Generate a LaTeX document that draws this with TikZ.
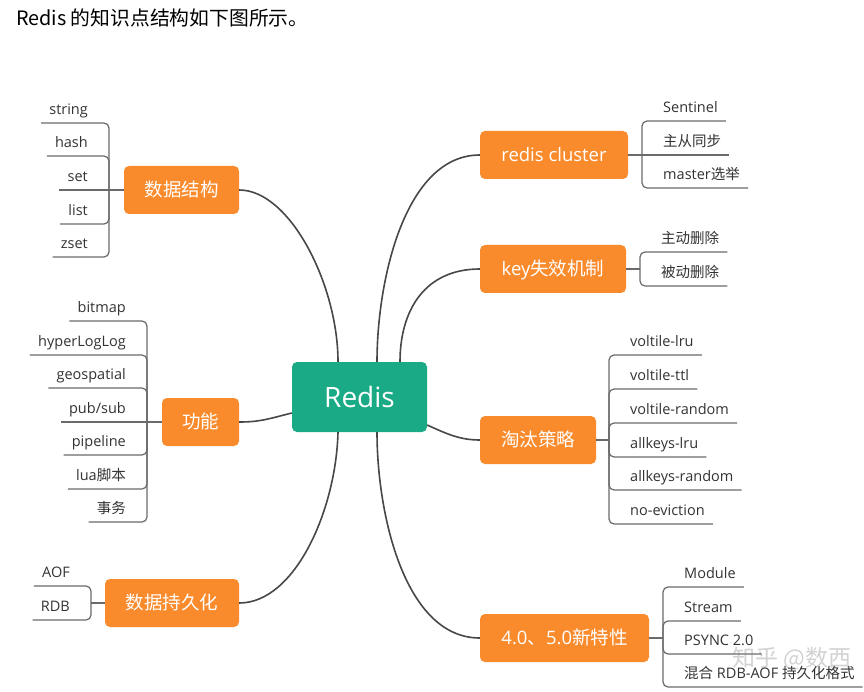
\documentclass[tikz,border=0pt]{standalone}
\usepackage{fontspec}
\setmainfont{Open Sans}
\newfontfamily\cjk{Noto Sans CJK SC}
\definecolor{hubgreen}{RGB}{26,170,133}
\definecolor{topicorange}{RGB}{250,139,45}
\definecolor{mainline}{HTML}{474747}
\definecolor{leafline}{HTML}{6A6A6A}
\definecolor{leaftext}{HTML}{333333}
\begin{document}
\begin{tikzpicture}[x=1pt,y=-1pt,
  hub/.style={fill=hubgreen, rounded corners=5pt, text=white, font=\fontsize{28}{30}\selectfont, minimum width=135pt, minimum height=70pt, inner sep=0pt, text height=22pt, text depth=2pt},
  topic/.style={fill=topicorange, rounded corners=5pt, text=white, font=\fontsize{18.5}{20}\selectfont, minimum height=48pt, inner sep=0pt, text height=14pt, text depth=1pt},
  leafL/.style={anchor=south east, text=leaftext, font=\fontsize{14.5}{16}\selectfont, inner xsep=8pt, inner ysep=0pt, text height=11pt, text depth=8.5pt},
  leafR/.style={leafL, anchor=south west},
  mainconn/.style={draw=mainline, line width=1.6pt},
  leafconn/.style={draw=leafline, line width=1.2pt, rounded corners=5pt},
]
\fill[white] (0,0) rectangle (864,692);
\useasboundingbox (0,0) rectangle (864,692);

\node[anchor=base west, inner sep=0pt, font=\cjk\fontsize{19.8}{21}\selectfont] (title) at (16,26) {Redis 的知识点结构如下图所示。};

% hub and topics
\node[hub] (r) at (359.5,397) {Redis};
\node[topic, minimum width=115pt] (ds) at (181.5,190) {\cjk 数据结构};
\node[topic, minimum width=77pt] (gn) at (200.5,422) {\cjk 功能};
\node[topic, minimum width=134pt] (cj) at (172,603) {\cjk 数据持久化};
\node[topic, minimum width=148pt] (rc) at (554,155) {redis cluster};
\node[topic, minimum width=146pt] (kx) at (553,269) {key{\cjk 失效机制}};
\node[topic, minimum width=116pt] (tt) at (538,440) {\cjk 淘汰策略};
\node[topic, minimum width=169pt] (xt) at (564.5,638) {4.0{\cjk 、}5.0{\cjk 新特性}};

% main connectors
\draw[mainconn] ([xshift=-21.5pt]r.north) .. controls (338,285) and (290,190) .. (ds.east);
\draw[mainconn] ([yshift=-16pt]r.west) .. controls (268,419) and (260,422) .. (gn.east);
\draw[mainconn] ([xshift=-21.5pt]r.south) .. controls (336,510) and (295,603) .. (cj.east);
\draw[mainconn] ([xshift=17.5pt]r.north) .. controls (377,280) and (405,155) .. (rc.west);
\draw[mainconn] ([xshift=40.5pt]r.north) .. controls (400,310) and (425,269) .. (kx.west);
\draw[mainconn] ([yshift=-28pt]r.east) .. controls (447,434) and (460,440) .. (tt.west);
\draw[mainconn] ([xshift=17.5pt]r.south) .. controls (377,515) and (405,638) .. (xt.west);

% 数据结构 leaves
\node[leafL] (ds1) at (96,123) {string};
\node[leafL] (ds2) at (96,156) {hash};
\node[leafL] (ds3) at (96,190) {set};
\node[leafL] (ds4) at (96,224) {list};
\node[leafL] (ds5) at (96,257) {zset};
\coordinate (dsj) at (109,190);
\draw[leafconn] (ds.west) -- (dsj);
\draw[leafconn] (dsj) |- (ds1.south west);
\draw[leafconn] (dsj) |- (ds2.south west);
\draw[leafconn] (dsj) -- (ds3.south west);
\draw[leafconn] (dsj) |- (ds4.south west);
\draw[leafconn] (dsj) |- (ds5.south west);

% 功能 leaves
\node[leafL] (gn1) at (134,321) {bitmap};
\node[leafL] (gn2) at (134,355) {hyperLogLog};
\node[leafL] (gn3) at (134,388) {geospatial};
\node[leafL] (gn4) at (134,422) {pub/sub};
\node[leafL] (gn5) at (134,455) {pipeline};
\node[leafL] (gn6) at (134,489) {lua{\cjk 脚本}};
\node[leafL] (gn7) at (134,522) {\cjk 事务};
\coordinate (gnj) at (147,422);
\draw[leafconn] (gn.west) -- (gnj);
\draw[leafconn] (gnj) |- (gn1.south west);
\draw[leafconn] (gnj) |- (gn2.south west);
\draw[leafconn] (gnj) |- (gn3.south west);
\draw[leafconn] (gnj) -- (gn4.south west);
\draw[leafconn] (gnj) |- (gn5.south west);
\draw[leafconn] (gnj) |- (gn6.south west);
\draw[leafconn] (gnj) |- (gn7.south west);

% 数据持久化 leaves
\node[leafL] (cj1) at (78,586) {AOF};
\node[leafL] (cj2) at (78,620) {RDB};
\coordinate (cjj) at (91,603);
\draw[leafconn] (cj.west) -- (cjj);
\draw[leafconn] (cjj) |- (cj1.south west);
\draw[leafconn] (cjj) |- (cj2.south west);

% redis cluster leaves
\node[leafR] (rc1) at (655,121) {Sentinel};
\node[leafR] (rc2) at (655,155) {\cjk 主从同步};
\node[leafR] (rc3) at (655,188) {master{\cjk 选举}};
\coordinate (rcj) at (642,155);
\draw[leafconn] (rc.east) -- (rcj);
\draw[leafconn] (rcj) |- (rc1.south east);
\draw[leafconn] (rcj) -- (rc2.south east);
\draw[leafconn] (rcj) |- (rc3.south east);

% key失效机制 leaves
\node[leafR] (kx1) at (653,252) {\cjk 主动删除};
\node[leafR] (kx2) at (653,286) {\cjk 被动删除};
\coordinate (kxj) at (640,269);
\draw[leafconn] (kx.east) -- (kxj);
\draw[leafconn] (kxj) |- (kx1.south east);
\draw[leafconn] (kxj) |- (kx2.south east);

% 淘汰策略 leaves
\node[leafR] (tt1) at (622,355) {voltile-lru};
\node[leafR] (tt2) at (622,389) {voltile-ttl};
\node[leafR] (tt3) at (622,423) {voltile-random};
\node[leafR] (tt4) at (622,457) {allkeys-lru};
\node[leafR] (tt5) at (622,490) {allkeys-random};
\node[leafR] (tt6) at (622,524) {no-eviction};
\coordinate (ttj) at (609,440);
\draw[leafconn] (tt.east) -- (ttj);
\foreach \i in {1,...,6} {\draw[leafconn] (ttj) |- (tt\i.south east);}

% 新特性 leaves
\node[leafR] (xt1) at (676,587) {Module};
\node[leafR] (xt2) at (676,621) {Stream};
\node[leafR] (xt3) at (676,654) {PSYNC 2.0};
\node[leafR] (xt4) at (676,687) {{\cjk 混合} RDB-AOF {\cjk 持久化格式}};
\coordinate (xtj) at (663,638);
\draw[leafconn] (xt.east) -- (xtj);
\foreach \i in {1,...,4} {\draw[leafconn] (xtj) |- (xt\i.south east);}

% watermark
\node[text=gray, opacity=0.35, inner sep=0pt, font=\cjk\fontsize{23}{25}\selectfont] (wm) at (792,659) {知乎 @数西};
\end{tikzpicture}
\end{document}
